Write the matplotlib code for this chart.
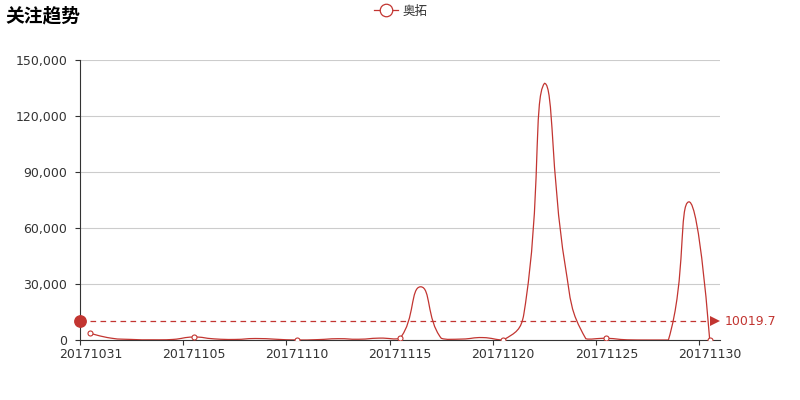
import numpy as np
import matplotlib
matplotlib.use('Agg')
import matplotlib.pyplot as plt
from matplotlib.path import Path
from matplotlib.patches import PathPatch
from matplotlib.lines import Line2D
from matplotlib.ticker import FuncFormatter, MultipleLocator, FixedLocator
import matplotlib.transforms as mtransforms

plt.rcParams['font.family'] = ['DejaVu Sans', 'Noto Sans CJK SC']

# data
dates = ['20171031', '20171101', '20171102', '20171103', '20171104', '20171105',
         '20171106', '20171107', '20171108', '20171109', '20171110', '20171111',
         '20171112', '20171113', '20171114', '20171115', '20171116', '20171117',
         '20171118', '20171119', '20171120', '20171121', '20171122', '20171123',
         '20171124', '20171125', '20171126', '20171127', '20171128', '20171129',
         '20171130']
values = [3600, 1000, 300, 100, 300, 1600, 600, 300, 800, 400,
          0, 200, 700, 400, 1011, 900, 28500, 900, 500, 1300,
          0, 14000, 137500, 40000, 700, 900, 100, 0, 0, 74000,
          0]
series_name = '奥拓'
title = '关注趋势'
label_every = 5
y_max = 150000
y_step = 30000

red = '#c23531'
dark = '#333333'

fig = plt.figure(figsize=(8, 4), dpi=100)
ax = fig.add_axes([0.1, 0.15, 0.8, 0.7])

n = len(dates)
x = np.arange(n, dtype=float)
y = np.array(values, dtype=float)

# smooth line like echarts: bezier control points in pixel space, clamped to the points' bbox
sx = 640.0 / n
sy = 280.0 / y_max
px = np.column_stack([x * sx, y * sy])
smooth = 0.5
lo = px.min(axis=0)
hi = px.max(axis=0)
cin = px.copy()
cout = px.copy()
for i in range(1, n - 1):
    v = px[i + 1] - px[i - 1]
    d0 = np.hypot(*(px[i] - px[i - 1]))
    d1 = np.hypot(*(px[i + 1] - px[i]))
    s = d0 + d1
    if s > 0:
        d0, d1 = d0 / s, d1 / s
    cin[i] = np.clip(px[i] - v * smooth * d0, lo, hi)
    cout[i] = np.clip(px[i] + v * smooth * d1, lo, hi)

verts = [px[0]]
codes = [Path.MOVETO]
for i in range(n - 1):
    verts += [cout[i], cin[i + 1], px[i + 1]]
    codes += [Path.CURVE4] * 3
verts = np.array(verts) / np.array([sx, sy])
ax.add_patch(PathPatch(Path(verts, codes), fill=False, edgecolor=red, lw=0.9, zorder=3))

# symbols only on labelled points
idx = list(range(0, n, label_every))
ax.plot(x[idx], y[idx], ls='none', marker='o', ms=3.6, mfc='white', mec=red, mew=0.8, zorder=4)

# average mark line
avg = float(np.mean(y))
ax.axhline(avg, color=red, lw=0.9, ls=(0, (4.5, 3.5)), zorder=2)
ax.plot([0], [avg], transform=ax.get_yaxis_transform(), marker='o', ms=8.2, color=red,
        clip_on=False, zorder=5)
arrow_tr = ax.get_yaxis_transform() + mtransforms.ScaledTranslation(-5 / 100, 0, fig.dpi_scale_trans)
ax.plot([1], [avg], transform=arrow_tr, marker='>', ms=7.5, color=red, mew=0, clip_on=False, zorder=5)
ax.text(1, avg, '%.1f' % avg, transform=ax.get_yaxis_transform() +
        mtransforms.ScaledTranslation(5 / 100, 0, fig.dpi_scale_trans),
        ha='left', va='center', color=red, fontsize=9)

# axes
ax.set_xlim(-0.5, n - 0.5)
ax.set_ylim(0, y_max)
ax.xaxis.set_major_locator(FixedLocator([i - 0.5 for i in idx]))
ax.xaxis.set_major_formatter(FuncFormatter(lambda v, p: ''))
ax.xaxis.set_minor_locator(FixedLocator(idx))
ax.xaxis.set_minor_formatter(FuncFormatter(lambda v, p: dates[int(round(v))]))
ax.tick_params(axis='x', which='major', length=3.6, width=0.8, color=dark)
ax.tick_params(axis='x', which='minor', length=0, pad=5.5, labelsize=9, labelcolor=dark)
ax.yaxis.set_major_locator(MultipleLocator(y_step))
ax.yaxis.set_major_formatter(FuncFormatter(lambda v, p: '{:,.0f}'.format(v)))
ax.tick_params(axis='y', length=3.6, width=0.8, color=dark, pad=5.5, labelsize=9, labelcolor=dark)
ax.grid(axis='y', color='#cccccc', lw=0.8)
ax.set_axisbelow(True)
for side in ['top', 'right']:
    ax.spines[side].set_visible(False)
for side in ['left', 'bottom']:
    ax.spines[side].set_color(dark)
    ax.spines[side].set_linewidth(0.8)

# title and legend
fig.text(0.007, 0.985, title, ha='left', va='top', fontsize=13.5, fontweight='bold', color='#000000')
handle = Line2D([], [], color=red, lw=0.9, marker='o', ms=9, mfc='white', mec=red, mew=0.9)
fig.legend([handle], [series_name], loc='upper center', bbox_to_anchor=(0.501, 1.016),
           frameon=False, fontsize=9, handlelength=1.9, handletextpad=0.4, labelcolor=dark)

fig.savefig('out.png', dpi=100)
